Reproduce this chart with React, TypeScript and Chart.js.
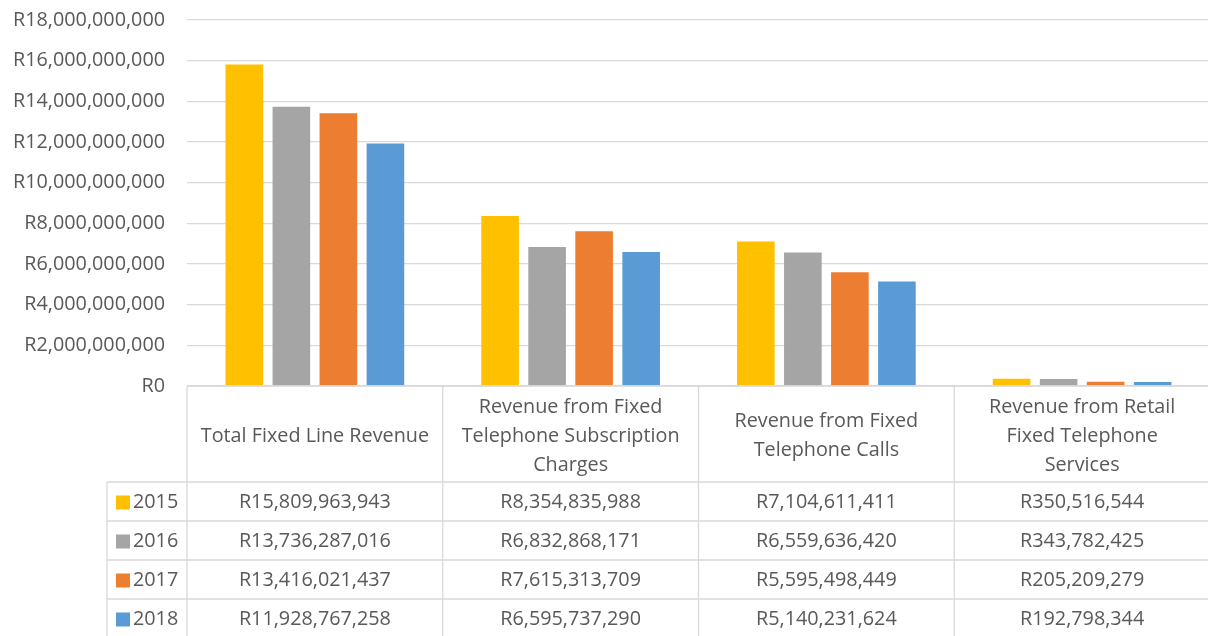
import React, { useEffect, useRef } from "react";
import { Chart, registerables } from "chart.js";

Chart.register(...registerables);

// Categories, as they wrap in the table header
const categoryLines: string[][] = [
  ["Total Fixed Line Revenue"],
  ["Revenue from Fixed", "Telephone Subscription", "Charges"],
  ["Revenue from Fixed", "Telephone Calls"],
  ["Revenue from Retail", "Fixed Telephone", "Services"],
];

const years = ["2015", "2016", "2017", "2018"];
const yearColors = ["#FFC000", "#A5A5A5", "#ED7D31", "#5B9BD5"];

const revenue2015 = [15809963943, 8354835988, 7104611411, 350516544];
const revenue2016 = [13736287016, 6832868171, 6559636420, 343782425];
const revenue2017 = [13416021437, 7615313709, 5595498449, 205209279];
const revenue2018 = [11928767258, 6595737290, 5140231624, 192798344];

const seriesValues = [revenue2015, revenue2016, revenue2017, revenue2018];

const yTickMax = 18000000000;
const yTickStep = 2000000000;

const FONT = '"Open Sans", sans-serif';
const FONT_SIZE = 19.8;
const TEXT = "#595959";
const LINE = "#d9d9d9";

const rand = (v: number) => "R" + Math.round(v).toLocaleString("en-US");

// Draws the data table beneath the plot: header with category names,
// then one row per year with its legend key and values.
const dataTablePlugin = {
  id: "dataTable",
  afterDraw(chart: any) {
    const ctx: CanvasRenderingContext2D = chart.ctx;
    const { left, right, bottom } = chart.chartArea;
    const H = chart.height;
    const n = categoryLines.length;
    const cw = (right - left) / n;
    const headerH = 96;
    const rowH = 39;
    const legendLeft = 107;
    const hb = bottom + headerH;

    ctx.save();
    ctx.strokeStyle = LINE;
    ctx.lineWidth = 1.3;
    const line = (x1: number, y1: number, x2: number, y2: number) => {
      ctx.beginPath();
      ctx.moveTo(x1, y1);
      ctx.lineTo(x2, y2);
      ctx.stroke();
    };

    line(left, bottom, right, bottom);
    for (let r = 0; r < years.length; r++) {
      const y = hb + r * rowH;
      line(legendLeft, y, right, y);
    }
    for (let i = 0; i <= n; i++) {
      const x = left + i * cw;
      line(x, bottom, x, H);
    }
    line(legendLeft, hb, legendLeft, H);

    ctx.fillStyle = TEXT;
    ctx.font = `${FONT_SIZE}px ${FONT}`;
    ctx.textAlign = "center";
    ctx.textBaseline = "middle";

    const lh = 29;
    const hc = bottom + headerH / 2 + 2;
    categoryLines.forEach((lines, i) => {
      const cx = chart.scales.x.getPixelForValue(i);
      const y0 = hc - ((lines.length - 1) * lh) / 2;
      lines.forEach((t, k) => ctx.fillText(t, cx, y0 + k * lh));
    });

    years.forEach((yr, r) => {
      const cy = hb + r * rowH + rowH / 2 + 1;
      ctx.fillStyle = yearColors[r];
      ctx.fillRect(116, cy - 7, 14, 14);
      ctx.fillStyle = TEXT;
      ctx.textAlign = "left";
      ctx.fillText(yr, 133, cy);
      ctx.textAlign = "center";
      seriesValues[r].forEach((v, i) => {
        const cx = chart.scales.x.getPixelForValue(i);
        ctx.fillText(rand(v), cx, cy);
      });
    });
    ctx.restore();
  },
};

export default function App() {
  const ref = useRef<HTMLCanvasElement>(null);

  useEffect(() => {
    if (!ref.current) return;
    const chart = new Chart(ref.current, {
      type: "bar",
      data: {
        labels: categoryLines.map((l) => l.join(" ")),
        datasets: years.map((yr, r) => ({
          label: yr,
          data: seriesValues[r],
          backgroundColor: yearColors[r],
          borderWidth: 0,
          categoryPercentage: 0.7355,
          barPercentage: 0.8,
        })),
      },
      options: {
        animation: false,
        responsive: false,
        devicePixelRatio: 1,
        layout: { padding: { top: 20, bottom: 250, left: 0, right: 0 } },
        plugins: {
          legend: { display: false },
          tooltip: { enabled: false },
        },
        scales: {
          x: { display: false },
          y: {
            min: 0,
            max: yTickMax,
            border: { display: false },
            grid: { color: LINE, lineWidth: 1.3, drawTicks: false },
            ticks: {
              stepSize: yTickStep,
              padding: 22,
              color: TEXT,
              font: { family: FONT, size: FONT_SIZE },
              callback: (v: any) => rand(Number(v)),
            },
            afterFit: (scale: any) => {
              scale.width = 187;
              scale.paddingTop = 0;
              scale.paddingBottom = 0;
            },
          },
        },
      },
      plugins: [dataTablePlugin],
    });
    return () => chart.destroy();
  }, []);

  return (
    <div
      style={{
        position: "fixed",
        left: 0,
        top: 0,
        width: 1208,
        height: 636,
        overflow: "hidden",
        background: "#fff",
      }}
    >
      <canvas ref={ref} width={1210} height={636} style={{ display: "block" }} />
    </div>
  );
}
